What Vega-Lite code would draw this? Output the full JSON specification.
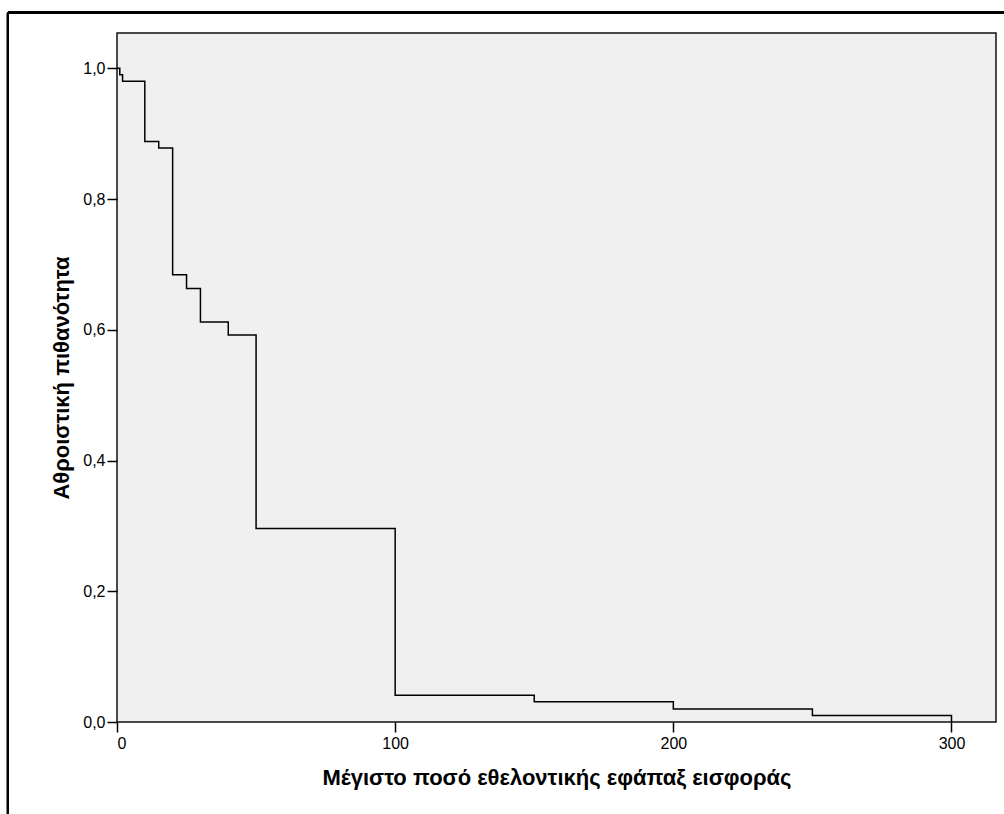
{
  "$schema": "https://vega.github.io/schema/vega-lite/v6.json",
  "width": 879,
  "height": 689,
  "autosize": {"type": "none"},
  "padding": {"left": 117, "top": 33, "right": 8, "bottom": 92},
  "background": "#ffffff",
  "config": {
    "font": "Liberation Sans",
    "view": {"fill": "#f0f0f0", "stroke": "#111111", "strokeWidth": 1.5}
  },
  "data": {
    "values": [
      {"amount": 0, "prob": 1.0},
      {"amount": 1, "prob": 0.990},
      {"amount": 2, "prob": 0.980},
      {"amount": 10, "prob": 0.888},
      {"amount": 15, "prob": 0.878},
      {"amount": 20, "prob": 0.684},
      {"amount": 25, "prob": 0.663},
      {"amount": 30, "prob": 0.612},
      {"amount": 40, "prob": 0.592},
      {"amount": 50, "prob": 0.296},
      {"amount": 100, "prob": 0.041},
      {"amount": 150, "prob": 0.031},
      {"amount": 200, "prob": 0.020},
      {"amount": 250, "prob": 0.010},
      {"amount": 300, "prob": 0.0}
    ]
  },
  "layer": [
    {
      "mark": {"type": "line", "interpolate": "step-after", "color": "#000000", "strokeWidth": 1.5},
      "encoding": {
        "x": {
          "field": "amount",
          "type": "quantitative",
          "scale": {"domain": [0, 316], "nice": false, "zero": false},
          "axis": {
            "title": "Μέγιστο ποσό εθελοντικής εφάπαξ εισφοράς",
            "values": [0, 100, 200, 300],
            "format": "d",
            "grid": false,
            "domain": false,
            "tickColor": "#000000",
            "tickSize": 10,
            "tickWidth": 1.5,
            "labelFont": "Liberation Sans",
            "labelFontSize": 16,
            "labelColor": "#000000",
            "labelPadding": 3,
            "titleFont": "Liberation Sans",
            "titleFontSize": 22,
            "titleFontWeight": "bold",
            "titleColor": "#000000",
            "titlePadding": 16
          }
        },
        "y": {
          "field": "prob",
          "type": "quantitative",
          "scale": {"domain": [0, 1.054], "nice": false, "zero": false},
          "axis": {
            "title": "Αθροιστική πιθανότητα",
            "values": [0, 0.2, 0.4, 0.6, 0.8, 1.0],
            "labelExpr": "replace(format(datum.value, '.1f'), '.', ',')",
            "grid": false,
            "domain": false,
            "tickColor": "#000000",
            "tickSize": 10,
            "tickWidth": 1.5,
            "labelFont": "Liberation Sans",
            "labelFontSize": 16,
            "labelColor": "#000000",
            "labelPadding": 2,
            "titleFont": "Liberation Sans",
            "titleFontSize": 22,
            "titleFontWeight": "bold",
            "titleColor": "#000000",
            "titlePadding": 9
          }
        }
      }
    },
    {
      "mark": {"type": "rule", "color": "#000000", "strokeWidth": 2, "clip": false},
      "encoding": {
        "x": {"datum": -39.2, "type": "quantitative"},
        "x2": {"datum": 325},
        "y": {"datum": 1.0852, "type": "quantitative"}
      }
    },
    {
      "mark": {"type": "rule", "color": "#000000", "strokeWidth": 2, "clip": false},
      "encoding": {
        "x": {"datum": -39.2, "type": "quantitative"},
        "y": {"datum": 1.0852, "type": "quantitative"},
        "y2": {"datum": -0.2}
      }
    }
  ]
}
